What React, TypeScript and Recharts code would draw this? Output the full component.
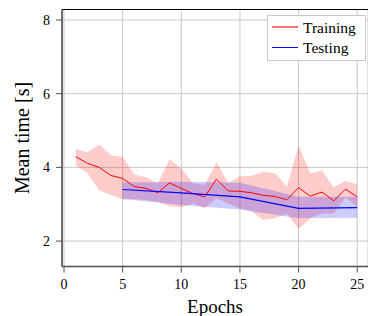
import {
  ComposedChart,
  Area,
  Line,
  XAxis,
  YAxis,
  CartesianGrid,
  ReferenceLine,
} from "recharts";

const trainEpochs = [1, 2, 3, 4, 5, 6, 7, 8, 9, 10, 11, 12, 13, 14, 15, 16, 17, 18, 19, 20, 21, 22, 23, 24, 25];
const trainMean = [4.29, 4.11, 4.0, 3.78, 3.7, 3.48, 3.43, 3.31, 3.58, 3.43, 3.29, 3.2, 3.68, 3.36, 3.35, 3.31, 3.24, 3.21, 3.12, 3.45, 3.22, 3.33, 3.09, 3.41, 3.2];
const trainHigh = [4.5, 4.41, 4.62, 4.33, 4.29, 3.81, 3.73, 3.57, 4.22, 3.97, 3.57, 3.52, 4.14, 3.58, 3.76, 3.77, 3.88, 3.84, 3.48, 4.59, 3.84, 3.91, 3.46, 3.63, 3.54];
const trainLow = [4.06, 3.84, 3.38, 3.25, 3.14, 3.14, 3.11, 3.07, 2.95, 2.91, 3.02, 2.89, 3.16, 3.02, 2.89, 2.8, 2.57, 2.62, 2.75, 2.33, 2.62, 2.75, 2.75, 3.18, 2.93];

const testEpochs = [5, 10, 15, 20, 25];
const testMean = [3.4, 3.31, 3.2, 2.89, 2.91];
const testHigh = [3.59, 3.61, 3.58, 3.2, 3.2];
const testLow = [3.14, 2.98, 2.86, 2.62, 2.63];

const xTicks = [0, 5, 10, 15, 20, 25];
const yTicks = [2, 4, 6, 8];

const trainData = trainEpochs.map((epoch, i) => ({
  epoch,
  train: trainMean[i],
  trainBand: [trainLow[i], trainHigh[i]],
}));

const testData = testEpochs.map((epoch, i) => ({
  epoch,
  test: testMean[i],
  testBand: [testLow[i], testHigh[i]],
}));

const FONT = "Liberation Serif";

const XTick = ({ x, y, payload }: any) => (
  <text x={x} y={y + 11} textAnchor="middle" fontFamily={FONT} fontSize={14} fill="#000">
    {payload.value}
  </text>
);

const YTick = ({ x, y, payload }: any) => (
  <text x={x} y={y + 5} textAnchor="end" fontFamily={FONT} fontSize={14} fill="#000">
    {payload.value}
  </text>
);

// legend drawn as an overlay so it doesn't steal space from the plot
const LegendBox = () => (
  <svg
    width={99}
    height={46}
    style={{ position: "absolute", left: 267, top: 15 }}
  >
    <rect x={0.5} y={0.5} width={98} height={45} fill="#fff" stroke="#c8c8c8" />
    <line x1={5} x2={31} y1={12} y2={12} stroke="#ff7070" strokeWidth={2} />
    <line x1={5} x2={31} y1={32.5} y2={32.5} stroke="#0000ff" strokeWidth={1} />
    <text x={36} y={18} fontFamily={FONT} fontSize={15.5} fill="#000">Training</text>
    <text x={36} y={38} fontFamily={FONT} fontSize={15.5} fill="#000">Testing</text>
  </svg>
);

export default function App() {
  return (
    <div
      style={{
        position: "absolute",
        left: 0,
        top: 0,
        width: 368,
        height: 316,
        background: "#fff",
        fontFamily: FONT,
      }}
    >
      <ComposedChart
        width={368}
        height={316}
        data={trainData}
        margin={{ top: 9.5, right: 0, bottom: 0, left: 0 }}
      >
        <CartesianGrid stroke="#c8c8c8" strokeWidth={1} />
        <XAxis
          dataKey="epoch"
          type="number"
          domain={[-0.17, 25.92]}
          ticks={xTicks}
          allowDataOverflow
          height={49.5}
          tickSize={6}
          tickMargin={5}
          axisLine={{ stroke: "#505050", strokeWidth: 1.6 }}
          tickLine={{ stroke: "#505050" }}
          tick={<XTick />}
          label={{
            value: "Epochs",
            position: "insideBottom",
            offset: 3,
            fill: "#000",
            fontSize: 19,
            fontFamily: FONT,
          }}
        />
        <YAxis
          type="number"
          domain={[1.31, 8.285]}
          ticks={yTicks}
          allowDataOverflow
          width={62}
          tickSize={6}
          tickMargin={6}
          axisLine={{ stroke: "#505050", strokeWidth: 1.6 }}
          tickLine={{ stroke: "#505050" }}
          tick={<YTick />}
          label={{
            value: "Mean time [s]",
            angle: -90,
            position: "insideLeft",
            offset: 22,
            fill: "#000",
            fontSize: 20,
            fontFamily: FONT,
            style: { textAnchor: "middle" },
          }}
        />
        <ReferenceLine y={8.285} stroke="#000" strokeWidth={1.2} ifOverflow="visible" />
        <Area
          dataKey="trainBand"
          stroke="none"
          fill="#ff0000"
          fillOpacity={0.2}
          isAnimationActive={false}
          activeDot={false}
        />
        <Area
          data={testData}
          dataKey="testBand"
          stroke="none"
          fill="#0000ff"
          fillOpacity={0.2}
          isAnimationActive={false}
          activeDot={false}
        />
        <Line
          dataKey="train"
          stroke="#ff0000"
          strokeWidth={1}
          dot={false}
          activeDot={false}
          isAnimationActive={false}
        />
        <Line
          data={testData}
          dataKey="test"
          stroke="#0000ff"
          strokeWidth={1.2}
          dot={false}
          activeDot={false}
          isAnimationActive={false}
        />
      </ComposedChart>
      <LegendBox />
    </div>
  );
}
